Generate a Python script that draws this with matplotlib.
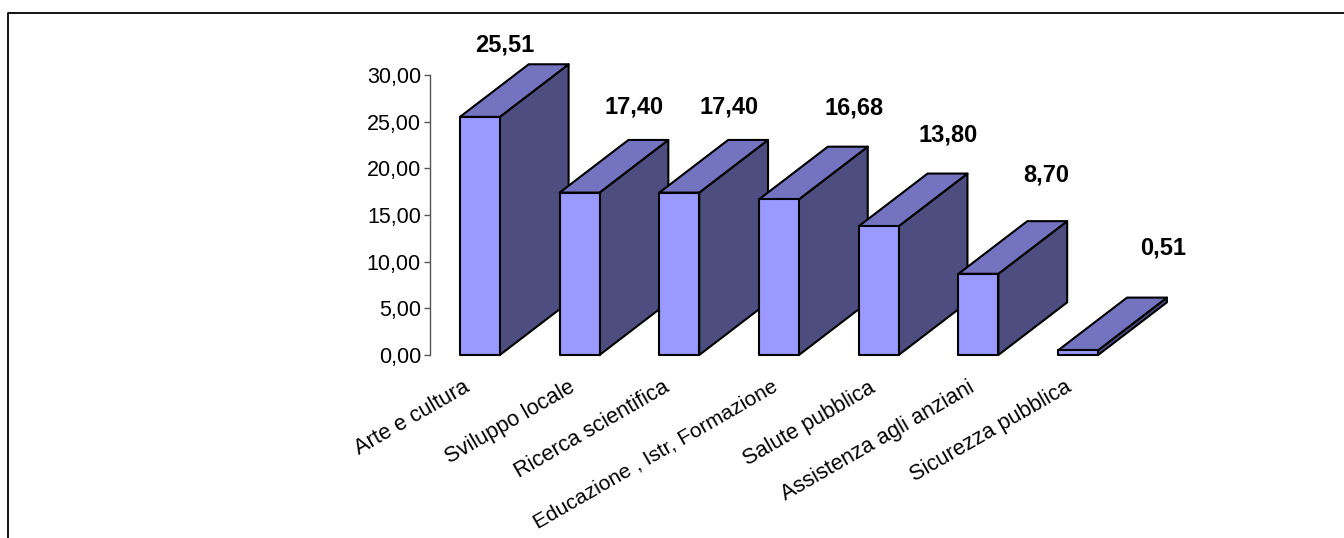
import matplotlib
matplotlib.use("Agg")
import matplotlib.pyplot as plt
from matplotlib.lines import Line2D
from matplotlib.patches import Polygon

categories = ["Arte e cultura", "Sviluppo locale", "Ricerca scientifica",
              "Educazione , Istr, Formazione", "Salute pubblica",
              "Assistenza agli anziani", "Sicurezza pubblica"]
values = [25.51, 17.40, 17.40, 16.68, 13.80, 8.70, 0.51]
value_labels = ["25,51", "17,40", "17,40", "16,68", "13,80", "8,70", "0,51"]
y_ticks = [0, 5, 10, 15, 20, 25, 30]
y_tick_labels = ["0,00", "5,00", "10,00", "15,00", "20,00", "25,00", "30,00"]

# posizione a mano delle etichette (pixel rispetto al centro del fronte)
label_dx = [25, 54, 50, 75, 69, 68, 85]
label_dy = [72, 86, 86, 91, 91, 99, 102]
cat_dx = [-17, -11, -17, -8, -10, -11, -13]
cat_size = [15.7, 15.7, 15.7, 15.1, 15.7, 15.7, 15.7]

W, H = 1344, 538
plt.rcParams["font.family"] = ["Liberation Sans", "DejaVu Sans"]

fig = plt.figure(figsize=(W / 100, H / 100), dpi=100)
ax = fig.add_axes([430 / W, 1 - 355 / H, 698 / W, 280 / H])
ax.set_xlim(-0.5, 6.5)
ax.set_ylim(0, 30)
ax.patch.set_visible(False)

# cornice: solo sopra e a sinistra, il resto e' tagliato
fx = 8 / W
fy = 1 - 12.5 / H
fig.add_artist(Line2D([fx, fx, 1], [0, fy, fy], transform=fig.transFigure, color="black", linewidth=1.3))

bar_w = 0.4
depth_x = 0.69
depth_y = 5.64
front_col = "#9999ff"
top_col = "#7373bf"
side_col = "#4d4d80"
edge = "black"

for i, v in enumerate(values):
    l, r = i - bar_w / 2, i + bar_w / 2
    z = 3 + i
    side = [(r, 0), (r + depth_x, depth_y), (r + depth_x, v + depth_y), (r, v)]
    top = [(l, v), (l + depth_x, v + depth_y), (r + depth_x, v + depth_y), (r, v)]
    front = [(l, 0), (r, 0), (r, v), (l, v)]
    for pts, col in [(side, side_col), (top, top_col), (front, front_col)]:
        ax.add_patch(Polygon(pts, closed=True, facecolor=col, edgecolor=edge, linewidth=1.5,
                             joinstyle="round", clip_on=False, zorder=z))
    ax.annotate(value_labels[i], (i, v), xytext=(label_dx[i], label_dy[i]), textcoords="offset pixels",
                ha="center", va="center", fontsize=17, fontweight="bold", color="black",
                annotation_clip=False, zorder=20)
    ax.annotate(categories[i], (i, 0), xytext=(cat_dx[i], -22), textcoords="offset pixels",
                ha="right", va="top", rotation=30, rotation_mode="anchor", fontsize=cat_size[i],
                color="black", annotation_clip=False)

ax.set_yticks(y_ticks)
ax.set_yticklabels(y_tick_labels, fontsize=15.5, color="black")
ax.set_xticks([])
ax.tick_params(axis="y", length=4.5, width=1, color="#555555", pad=2)
for name in ["top", "right", "bottom"]:
    ax.spines[name].set_visible(False)
ax.spines["left"].set_color("#555555")
ax.spines["left"].set_linewidth(1)

fig.savefig("out.png", dpi=100)
